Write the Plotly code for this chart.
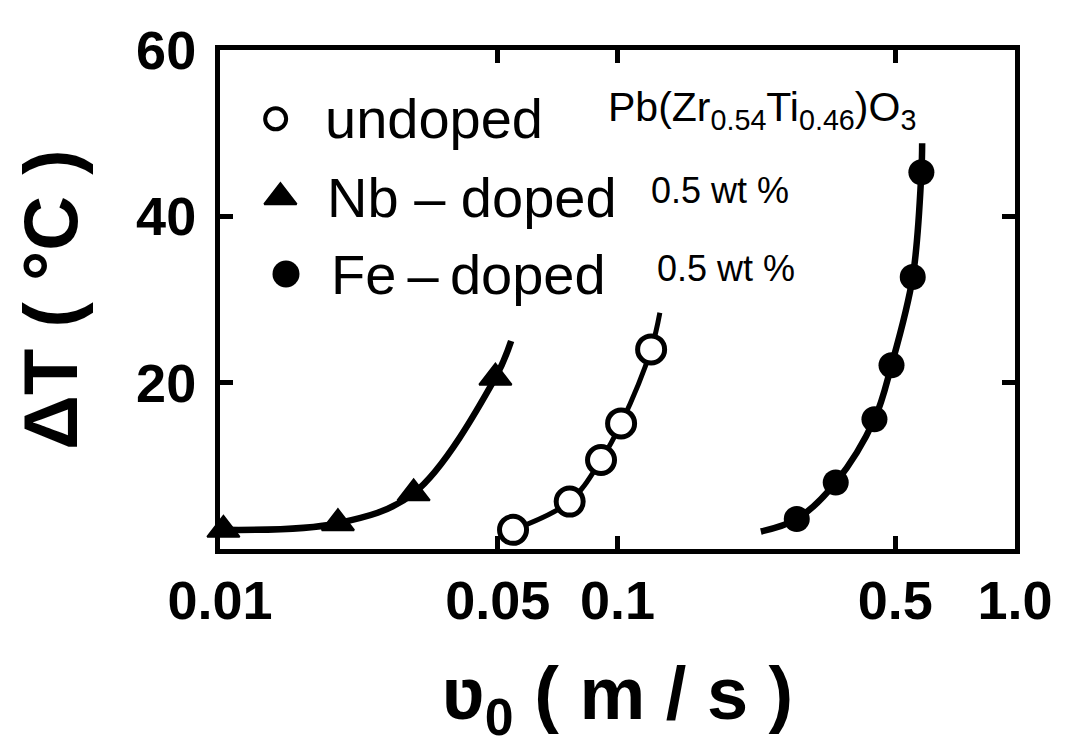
import plotly.graph_objects as go

# ---------------- data ----------------
x_tickvals = [0.01, 0.05, 0.1, 0.5, 1.0]
x_ticktext = ["0.01", "0.05", "0.1", "0.5", "1.0"]
y_tickvals = [20, 40, 60]
y_ticktext = ["20", "40", "60"]

# Nb-doped 0.5 wt% (filled triangles)
nb_x = [0.0102, 0.0198, 0.0307, 0.0493]
nb_y = [2.3, 3.1, 6.7, 20.6]
nb_curve_x = [0.0102, 0.0198, 0.0307, 0.0493, 0.054]
nb_curve_y = [2.3, 3.1, 6.7, 20.6, 25.0]

# undoped (open circles)
und_x = [0.0546, 0.0758, 0.0909, 0.1021, 0.1215]
und_y = [2.3, 5.7, 10.7, 15.1, 24.0]
und_curve_x = [0.0546, 0.0758, 0.0909, 0.1021, 0.1215, 0.1278]
und_curve_y = [2.3, 5.7, 10.7, 15.1, 24.0, 28.4]

# Fe-doped 0.5 wt% (filled circles)
fe_x = [0.2825, 0.354, 0.443, 0.489, 0.553, 0.5814]
fe_y = [3.6, 8.0, 15.6, 22.1, 32.7, 45.3]
fe_curve_x = [0.2294, 0.2825, 0.354, 0.443, 0.489, 0.553, 0.5814, 0.584]
fe_curve_y = [2.1, 3.6, 8.0, 15.6, 22.1, 32.7, 45.3, 48.8]

legend_labels = ["undoped", "Nb \u2013 doped", "Fe\u2009\u2013\u2009doped"]
formula_text = "Pb(Zr<sub>0.54</sub>Ti<sub>0.46</sub>)O<sub>3</sub>"
conc_text = "0.5 wt %"
x_title = "\u028b<sub>0</sub> ( m / s )"
y_title = "\u0394T ( \u00b0C )"

# ---------------- styling / layout constants ----------------
BLACK = "#000000"
TICK_FONT = dict(family="Liberation Sans, Arial, sans-serif", size=54, color=BLACK, weight="bold")
LEG_FONT = dict(family="Liberation Sans, Arial, sans-serif", size=56, color=BLACK)

# legend key positions in the plot-area fraction (layout, not data)
leg_key_x = [0.070, 0.076, 0.083]
leg_key_y = [0.862, 0.705, 0.551]
leg_text_x = [0.130, 0.132, 0.137]

fig = go.Figure()

# curves
for cx, cy, w in [(nb_curve_x, nb_curve_y, 6.5), (und_curve_x, und_curve_y, 5), (fe_curve_x, fe_curve_y, 6.5)]:
    fig.add_trace(go.Scatter(x=cx, y=cy, mode="lines",
                             line=dict(color=BLACK, width=w, shape="spline", smoothing=1.0),
                             showlegend=False, hoverinfo="skip", cliponaxis=False))

# markers
fig.add_trace(go.Scatter(x=nb_x, y=nb_y, mode="markers", showlegend=False, cliponaxis=False,
                         marker=dict(symbol="triangle-up", size=28, color=BLACK,
                                     line=dict(color=BLACK, width=2))))
fig.add_trace(go.Scatter(x=und_x, y=und_y, mode="markers", showlegend=False, cliponaxis=False,
                         marker=dict(symbol="circle", size=27, color="white",
                                     line=dict(color=BLACK, width=5))))
fig.add_trace(go.Scatter(x=fe_x, y=fe_y, mode="markers", showlegend=False, cliponaxis=False,
                         marker=dict(symbol="circle", size=26, color=BLACK,
                                     line=dict(color=BLACK, width=0))))

# legend keys (drawn on a hidden overlay axis spanning the plot area)
leg_symbols = ["circle", "triangle-up", "circle"]
leg_colors = ["white", BLACK, BLACK]
leg_sizes = [21, 28, 27]
leg_lw = [4, 2, 0]
for i in range(3):
    fig.add_trace(go.Scatter(x=[leg_key_x[i]], y=[leg_key_y[i]], xaxis="x2", yaxis="y2",
                             mode="markers", showlegend=False, cliponaxis=False,
                             marker=dict(symbol=leg_symbols[i], size=leg_sizes[i], color=leg_colors[i],
                                         line=dict(color=BLACK, width=leg_lw[i]))))

annotations = []
for i in range(3):
    annotations.append(dict(x=leg_text_x[i], y=leg_key_y[i], xref="paper", yref="paper",
                            text=legend_labels[i], showarrow=False, xanchor="left", yanchor="middle",
                            font=LEG_FONT))
annotations.append(dict(x=0.682, y=0.880, xref="paper", yref="paper", text=formula_text,
                        showarrow=False, xanchor="center", yanchor="middle",
                        font=dict(family="Liberation Sans, Arial, sans-serif", size=41, color=BLACK)))
annotations.append(dict(x=0.6295, y=0.718, xref="paper", yref="paper", text=conc_text,
                        showarrow=False, xanchor="center", yanchor="middle",
                        font=dict(family="Liberation Sans, Arial, sans-serif", size=36, color=BLACK)))
annotations.append(dict(x=0.636, y=0.562, xref="paper", yref="paper", text=conc_text,
                        showarrow=False, xanchor="center", yanchor="middle",
                        font=dict(family="Liberation Sans, Arial, sans-serif", size=36, color=BLACK)))

axis_common = dict(showline=True, linecolor=BLACK, linewidth=5, mirror="ticks",
                   ticks="inside", ticklen=13, tickwidth=5, tickcolor=BLACK,
                   showgrid=False, zeroline=False, tickfont=TICK_FONT,
                   ticklabeloverflow="allow")

fig.update_layout(
    width=1058, height=740, autosize=False,
    margin=dict(l=212, r=51, t=28, b=199),
    paper_bgcolor="white", plot_bgcolor="white",
    xaxis=dict(type="log", range=[-2, 0], tickvals=x_tickvals, ticktext=x_ticktext,
               ticklabelstandoff=0,
               title=dict(text=x_title, standoff=40,
                          font=dict(family="Liberation Sans, DejaVu Sans, sans-serif", size=74,
                                    color=BLACK, weight="bold")),
               **axis_common),
    yaxis=dict(range=[0, 60], tickvals=y_tickvals, ticktext=y_ticktext,
               ticklabelstandoff=8,
               title=dict(text=y_title, standoff=57,
                          font=dict(family="Liberation Sans, Arial, sans-serif", size=76,
                                    color=BLACK, weight="bold")),
               **axis_common),
    xaxis2=dict(range=[0, 1], overlaying="x", anchor="y2", visible=False, fixedrange=True),
    yaxis2=dict(range=[0, 1], overlaying="y", anchor="x2", visible=False, fixedrange=True),
    annotations=annotations,
    showlegend=False,
)

fig.write_html("out.html")
